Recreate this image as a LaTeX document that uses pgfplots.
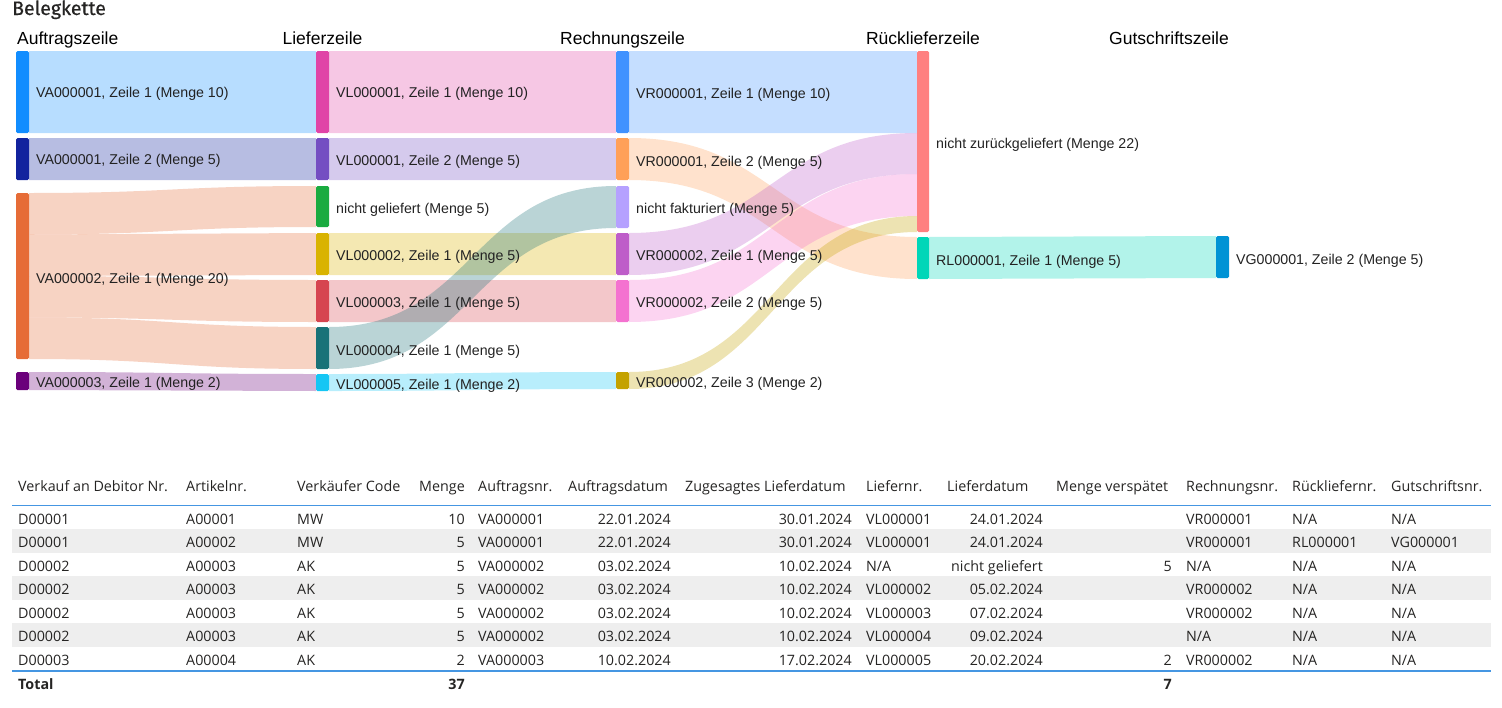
\documentclass[border=0pt]{standalone}
\usepackage{pgfplots}
\pgfplotsset{compat=1.18}
\usepackage{fontspec}
\setmainfont{Liberation Sans}
\newfontfamily\tabfont{Open Sans}
\newfontfamily\titlefont{Fira Sans}[FakeBold=0.6]

\definecolor{txt}{HTML}{252423}
\definecolor{lbl}{HTML}{222222}
\definecolor{rowgray}{HTML}{EEEEEE}
\definecolor{lineblue}{HTML}{4596E2}
% node colours
\definecolor{cVAa}{HTML}{118DFF}
\definecolor{cVAb}{HTML}{12239E}
\definecolor{cVAc}{HTML}{E66C37}
\definecolor{cVAd}{HTML}{6B007B}
\definecolor{cVLa}{HTML}{E044A7}
\definecolor{cVLb}{HTML}{744EC2}
\definecolor{cNG}{HTML}{1AAB40}
\definecolor{cVLc}{HTML}{D9B300}
\definecolor{cVLd}{HTML}{D64550}
\definecolor{cVLe}{HTML}{197278}
\definecolor{cVLf}{HTML}{15C6F4}
\definecolor{cVRa}{HTML}{4092FF}
\definecolor{cVRb}{HTML}{FFA058}
\definecolor{cNF}{HTML}{B5A1FF}
\definecolor{cVRc}{HTML}{BE5DC9}
\definecolor{cVRd}{HTML}{F472D0}
\definecolor{cVRe}{HTML}{C4A200}
\definecolor{cNZ}{HTML}{FF8080}
\definecolor{cRL}{HTML}{00D6B8}
\definecolor{cVG}{HTML}{0093D5}

% node bar: x0, x1, ytop, ybot, colour
\newcommand{\sknode}[5]{%
  \addplot[fill=#5, draw=none, rounded corners=1.5pt, forget plot]
    coordinates {(#1,#3) (#2,#3) (#2,#4) (#1,#4)} -- cycle;}
% link band: xa, xb, xmid, ya1, ya2, yb1, yb2, colour
\newcommand{\sklink}[8]{%
  \fill[#8, fill opacity=0.3]
    (axis cs:#1,#4) .. controls (axis cs:#3,#4) and (axis cs:#3,#6) .. (axis cs:#2,#6)
    -- (axis cs:#2,#7) .. controls (axis cs:#3,#7) and (axis cs:#3,#5) .. (axis cs:#1,#5) -- cycle;}
\newcommand{\sklabel}[3]{%
  \node[anchor=base west, inner sep=0pt, text=lbl,
        font=\fontsize{14.2}{16}\selectfont] at (axis cs:#1,#2) {#3};}
\tikzset{
  TL/.style={anchor=base west, inner sep=0pt, text=txt, font=\tabfont\fontsize{14.3}{17}\selectfont},
  TR/.style={anchor=base east, inner sep=0pt, text=txt, font=\tabfont\fontsize{14.3}{17}\selectfont},
  TB/.style={inner sep=0pt, text=txt, font=\tabfont\bfseries\fontsize{14.3}{17}\selectfont},
}
\newcommand{\rowA}[9]{%
  \node[TL] at (axis cs:18,#1) {#2};
  \node[TL] at (axis cs:186,#1) {#3};
  \node[TL] at (axis cs:297,#1) {#4};
  \node[TR] at (axis cs:465,#1) {#5};
  \node[TL] at (axis cs:478,#1) {#6};
  \node[TR] at (axis cs:671,#1) {#7};
  \node[TR] at (axis cs:852,#1) {#8};
  \node[TL] at (axis cs:866,#1) {#9};}
\newcommand{\rowB}[6]{%
  \node[TR] at (axis cs:1043,#1) {#2};
  \node[TR] at (axis cs:1172,#1) {#3};
  \node[TL] at (axis cs:1186,#1) {#4};
  \node[TL] at (axis cs:1292,#1) {#5};
  \node[TL] at (axis cs:1391,#1) {#6};}
\newcommand{\rowshade}[2]{%
  \addplot[fill=rowgray, draw=none, forget plot]
    coordinates {(12,#1) (1491,#1) (1491,#2) (12,#2)} -- cycle;}

\begin{document}
\begin{tikzpicture}
\begin{axis}[
  width=1502pt, height=707pt, scale only axis,
  xmin=0, xmax=1502, ymin=0, ymax=707, y dir=reverse,
  hide axis, clip=false,
]
\path (rel axis cs:0,0) rectangle (rel axis cs:1,1);

% ---------- title and column headers ----------
\node[anchor=base west, inner sep=0pt, text=txt, font=\titlefont\fontsize{19.5}{22}\selectfont]
  at (axis cs:12,15) {Belegkette};
\node[anchor=base west, inner sep=0pt, font=\fontsize{17.5}{20}\selectfont] at (axis cs:17,44) {Auftragszeile};
\node[anchor=base, inner sep=0pt, font=\fontsize{17.5}{20}\selectfont] at (axis cs:322.5,44) {Lieferzeile};
\node[anchor=base, inner sep=0pt, font=\fontsize{17.5}{20}\selectfont] at (axis cs:622.5,44) {Rechnungszeile};
\node[anchor=base, inner sep=0pt, font=\fontsize{17.5}{20}\selectfont] at (axis cs:923,44) {Rücklieferzeile};
\node[anchor=base east, inner sep=0pt, font=\fontsize{17.5}{20}\selectfont] at (axis cs:1229,44) {Gutschriftszeile};

% ---------- links ----------
% Auftragszeile -> Lieferzeile
\sklink{29}{316}{172.5}{51}{133}{51}{133}{cVAa}
\sklink{29}{316}{172.5}{138}{180}{138}{180}{cVAb}
\sklink{29}{316}{172.5}{193}{234.5}{186}{227}{cVAc}
\sklink{29}{316}{172.5}{234.5}{276}{233}{275}{cVAc}
\sklink{29}{316}{172.5}{276}{317.5}{280}{322}{cVAc}
\sklink{29}{316}{172.5}{317.5}{359}{327}{369}{cVAc}
\sklink{29}{316}{172.5}{372}{390}{374}{391}{cVAd}
% Lieferzeile -> Rechnungszeile
\sklink{329}{616}{472.5}{51}{133}{51}{133}{cVLa}
\sklink{329}{616}{472.5}{138}{180}{138}{180}{cVLb}
\sklink{329}{616}{472.5}{233}{275}{233}{275}{cVLc}
\sklink{329}{616}{472.5}{280}{322}{280}{322}{cVLd}
\sklink{329}{616}{472.5}{327}{369}{186}{228}{cVLe}
\sklink{329}{616}{472.5}{374}{391}{372}{389}{cVLf}
% Rechnungszeile -> Ruecklieferzeile
\sklink{629}{917}{773}{51}{133}{51}{133}{cVRa}
\sklink{629}{917}{773}{138}{180}{237}{279}{cVRb}
\sklink{629}{917}{773}{233}{275}{133}{174}{cVRc}
\sklink{629}{917}{773}{280}{322}{174}{216}{cVRd}
\sklink{629}{917}{773}{372}{389}{216}{232}{cVRe}
% Ruecklieferzeile -> Gutschriftszeile
\sklink{929}{1216}{1072.5}{237}{279}{236}{278}{cRL}

% ---------- nodes ----------
\sknode{16}{29}{51}{133}{cVAa}
\sknode{16}{29}{138}{180}{cVAb}
\sknode{16}{29}{193}{359}{cVAc}
\sknode{16}{29}{372}{390}{cVAd}
\sknode{316}{329}{51}{133}{cVLa}
\sknode{316}{329}{138}{180}{cVLb}
\sknode{316}{329}{186}{227}{cNG}
\sknode{316}{329}{233}{275}{cVLc}
\sknode{316}{329}{280}{322}{cVLd}
\sknode{316}{329}{327}{369}{cVLe}
\sknode{316}{329}{374}{391}{cVLf}
\sknode{616}{629}{51}{133}{cVRa}
\sknode{616}{629}{138}{180}{cVRb}
\sknode{616}{629}{186}{228}{cNF}
\sknode{616}{629}{233}{275}{cVRc}
\sknode{616}{629}{280}{322}{cVRd}
\sknode{616}{629}{372}{389}{cVRe}
\sknode{917}{929}{51}{232}{cNZ}
\sknode{917}{929}{237}{279}{cRL}
\sknode{1216}{1229}{236}{278}{cVG}

% ---------- node labels ----------
\sklabel{36}{97}{VA000001, Zeile 1 (Menge 10)}
\sklabel{36}{164}{VA000001, Zeile 2 (Menge 5)}
\sklabel{36}{283}{VA000002, Zeile 1 (Menge 20)}
\sklabel{36}{387}{VA000003, Zeile 1 (Menge 2)}
\sklabel{336}{97}{VL000001, Zeile 1 (Menge 10)}
\sklabel{336}{165}{VL000001, Zeile 2 (Menge 5)}
\sklabel{336}{213}{nicht geliefert (Menge 5)}
\sklabel{336}{260}{VL000002, Zeile 1 (Menge 5)}
\sklabel{336}{307}{VL000003, Zeile 1 (Menge 5)}
\sklabel{336}{355}{VL000004, Zeile 1 (Menge 5)}
\sklabel{336}{389}{VL000005, Zeile 1 (Menge 2)}
\sklabel{636}{98}{VR000001, Zeile 1 (Menge 10)}
\sklabel{636}{166}{VR000001, Zeile 2 (Menge 5)}
\sklabel{636}{213}{nicht fakturiert (Menge 5)}
\sklabel{636}{260}{VR000002, Zeile 1 (Menge 5)}
\sklabel{636}{307}{VR000002, Zeile 2 (Menge 5)}
\sklabel{636}{387}{VR000002, Zeile 3 (Menge 2)}
\sklabel{936}{148}{nicht zurückgeliefert (Menge 22)}
\sklabel{936}{265}{RL000001, Zeile 1 (Menge 5)}
\sklabel{1236}{264}{VG000001, Zeile 2 (Menge 5)}

% ---------- table ----------
\rowshade{529}{552.5}
\rowshade{576}{599.5}
\rowshade{623}{646.5}
\addplot[lineblue, line width=1.5pt, forget plot] coordinates {(12,505.5) (1491,505.5)};
\addplot[lineblue, line width=1.5pt, forget plot] coordinates {(12,671) (1491,671)};

% header
\node[TL] at (axis cs:18,491) {Verkauf an Debitor Nr.};
\node[TL] at (axis cs:186,491) {Artikelnr.};
\node[TL] at (axis cs:297,491) {Verkäufer Code};
\node[TR] at (axis cs:465,491) {Menge};
\node[TL] at (axis cs:478,491) {Auftragsnr.};
\node[TL] at (axis cs:568,491) {Auftragsdatum};
\node[TL] at (axis cs:685,491) {Zugesagtes Lieferdatum};
\node[TL] at (axis cs:866,491) {Liefernr.};
\node[TL] at (axis cs:947,491) {Lieferdatum};
\node[TL] at (axis cs:1056,491) {Menge verspätet};
\node[TL] at (axis cs:1186,491) {Rechnungsnr.};
\node[TL] at (axis cs:1292,491) {Rückliefernr.};
\node[TL] at (axis cs:1391,491) {Gutschriftsnr.};

\rowA{524}{D00001}{A00001}{MW}{10}{VA000001}{22.01.2024}{30.01.2024}{VL000001}
\rowB{524}{24.01.2024}{}{VR000001}{N/A}{N/A}
\rowA{547}{D00001}{A00002}{MW}{5}{VA000001}{22.01.2024}{30.01.2024}{VL000001}
\rowB{547}{24.01.2024}{}{VR000001}{RL000001}{VG000001}
\rowA{571}{D00002}{A00003}{AK}{5}{VA000002}{03.02.2024}{10.02.2024}{N/A}
\rowB{571}{nicht geliefert}{5}{N/A}{N/A}{N/A}
\rowA{594.5}{D00002}{A00003}{AK}{5}{VA000002}{03.02.2024}{10.02.2024}{VL000002}
\rowB{594.5}{05.02.2024}{}{VR000002}{N/A}{N/A}
\rowA{618}{D00002}{A00003}{AK}{5}{VA000002}{03.02.2024}{10.02.2024}{VL000003}
\rowB{618}{07.02.2024}{}{VR000002}{N/A}{N/A}
\rowA{641.5}{D00002}{A00003}{AK}{5}{VA000002}{03.02.2024}{10.02.2024}{VL000004}
\rowB{641.5}{09.02.2024}{}{N/A}{N/A}{N/A}
\rowA{665}{D00003}{A00004}{AK}{2}{VA000003}{10.02.2024}{17.02.2024}{VL000005}
\rowB{665}{20.02.2024}{2}{VR000002}{N/A}{N/A}
% total
\node[TB, anchor=base west] at (axis cs:18,689) {Total};
\node[TB, anchor=base east] at (axis cs:465,689) {37};
\node[TB, anchor=base east] at (axis cs:1172,689) {7};
\end{axis}
\end{tikzpicture}
\end{document}
